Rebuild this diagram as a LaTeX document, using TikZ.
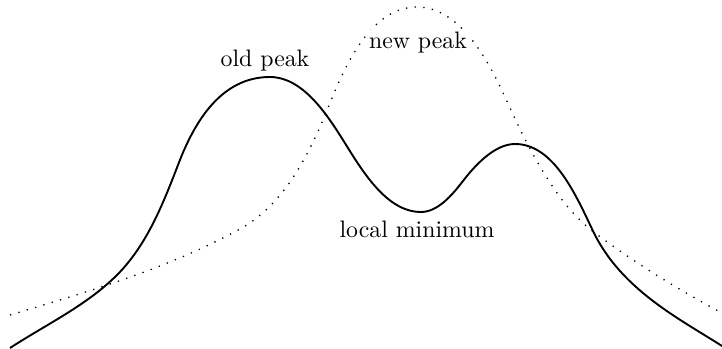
\documentclass[tikz,border=0pt]{standalone}
\begin{document}
\begin{tikzpicture}[x=0.42pt,y=-0.42pt,
  oldcurve/.style={line width=0.8pt,line join=round},
  newcurve/.style={line width=0.55pt,dash pattern=on 0.55pt off 3.1pt},
  lbl/.style={font=\normalsize,inner sep=1pt}]
\useasboundingbox (0,0) rectangle (722,349);
% dotted (new) distribution
\draw[newcurve] (10,315)
  .. controls (88.6,291.5) and (168.2,268.5) .. (240,229)
  .. controls (285.6,203.9) and (310.7,151.3) .. (330,103)
  .. controls (346,63.1) and (372,7) .. (417,7)
  .. controls (459,7) and (487.6,58.8) .. (505,97)
  .. controls (520.7,131.6) and (537.4,166.4) .. (560,197)
  .. controls (570.1,210.7) and (581.4,222.8) .. (595,233)
  .. controls (635,263) and (677.2,288.9) .. (722,313);
% solid (old) distribution
\draw[oldcurve] (10,348)
  .. controls (46.5,324.3) and (86.6,305.4) .. (117,275)
  .. controls (146.7,245.3) and (162.9,204.2) .. (178,165)
  .. controls (195,120) and (222,77) .. (270,77)
  .. controls (302,77) and (326,112.9) .. (343,140)
  .. controls (361.6,169.7) and (386,212) .. (421,212)
  .. controls (438,212) and (452.6,194.5) .. (463,181)
  .. controls (474,166.7) and (494,144) .. (515,144)
  .. controls (554,144) and (576.2,195.8) .. (593,231)
  .. controls (621,289.7) and (679.9,319) .. (722,346);
\node[lbl] (old) at (265,61) {old peak};
\node[lbl,fill=white] (new) at (418,43) {new peak};
\node[lbl] (min) at (417,229) {local minimum};
\end{tikzpicture}
\end{document}
